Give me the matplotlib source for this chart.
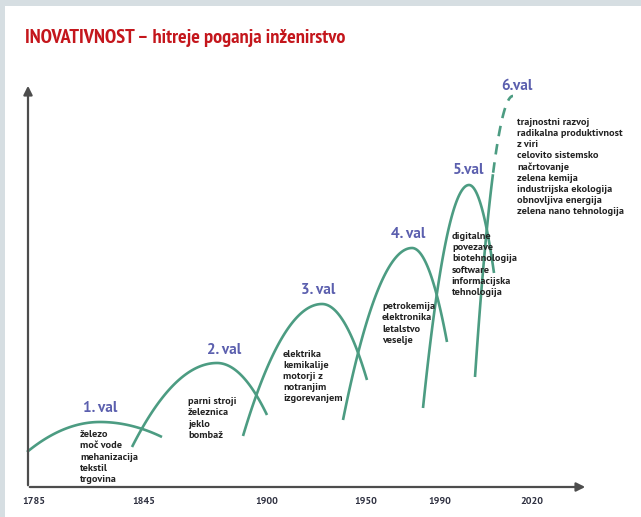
import numpy as np
import matplotlib
matplotlib.use("Agg")
import matplotlib.pyplot as plt
from matplotlib.patches import Rectangle

# ---------------- data ----------------
title = "INOVATIVNOST – hitreje poganja inženirstvo"

tick_pos = [34, 144, 267, 366, 440, 532]
tick_labels = ["1785", "1845", "1900", "1950", "1990", "2020"]

wave_names = ["1. val", "2. val", "3. val", "4. val", "5.val", "6.val"]
wave_start = [(27, 65), (132, 70), (243, 81), (343, 97), (423, 109), (475, 140)]
wave_peak = [(100, 95), (217, 154), (322, 213), (412, 269), (469, 332), (513, 421)]
wave_end = [(162, 80), (267, 102), (367, 137), (447, 175), (494, 244), None]
wave6_dash_from = 493

name_pos = [(100, 109), (224, 167), (318, 227), (408, 283), (469, 347), (517, 431)]

wave_texts = [
    ["železo", "moč vode", "mehanizacija", "tekstil", "trgovina"],
    ["parni stroji", "železnica", "jeklo", "bombaž"],
    ["elektrika", "kemikalije", "motorji z", "notranjim", "izgorevanjem"],
    ["petrokemija", "elektronika", "letalstvo", "veselje"],
    ["digitalne", "povezave", "biotehnologija", "software", "informacijska", "tehnologija"],
    ["trajnostni razvoj", "radikalna produktivnost", "z viri", "celovito sistemsko",
     "načrtovanje", "zelena kemija", "industrijska ekologija", "obnovljiva energija",
     "zelena nano tehnologija"],
]
text_pos = [(80, 60), (188, 98.5), (283, 140.5), (382, 193.5), (452, 252.5), (517, 350)]

# ---------------- styles ----------------
W, H = 641, 517
GREEN = "#4c9c82"
AXIS = "#4d4d4d"
BLUE = "#5b5fae"
RED = "#c4161c"
DARK = "#222222"
NARROW = ["PT Sans Narrow", "DejaVu Sans"]
SANS = ["PT Sans", "DejaVu Sans"]

fig = plt.figure(figsize=(W / 100, H / 100), dpi=100)
ax = fig.add_axes([0, 0, 1, 1])
ax.set_xlim(0, W)
ax.set_ylim(0, H)
ax.axis("off")

# frame bands
ax.add_patch(Rectangle((0, H - 6), W, 6, color="#d6dee2", lw=0))
ax.add_patch(Rectangle((0, 0), 5, H, color="#d6dee2", lw=0))

ax.text(25, H - 43, title, color=RED, fontsize=14.7, fontweight="bold",
        family=NARROW, ha="left", va="baseline")

# axes arrows
ax.annotate("", xy=(588, 30), xytext=(27, 30),
            arrowprops=dict(arrowstyle="-|>", color=AXIS, lw=1.6, mutation_scale=13))
ax.annotate("", xy=(28, 434), xytext=(28, 29),
            arrowprops=dict(arrowstyle="-|>", color=AXIS, lw=1.6, mutation_scale=13))

for x, lab in zip(tick_pos, tick_labels):
    ax.text(x, 16, lab, color="#2e3040", fontsize=7.3, fontweight="bold",
            family=SANS, ha="center", va="center")


def leg(p0, pk, n=60):
    xs = np.linspace(p0[0], pk[0], n)
    t = (xs - pk[0]) / (p0[0] - pk[0])
    ys = pk[1] + (p0[1] - pk[1]) * t ** 2
    return xs, ys


for i in range(6):
    s, pk, e = wave_start[i], wave_peak[i], wave_end[i]
    if e is not None:
        x1, y1 = leg(s, pk)
        x2, y2 = leg(e, pk)
        xs = np.concatenate([x1, x2[::-1]])
        ys = np.concatenate([y1, y2[::-1]])
        ax.plot(xs, ys, color=GREEN, lw=1.9, solid_capstyle="butt")
    else:
        xs, ys = leg(s, pk, 200)
        m = xs <= wave6_dash_from
        ax.plot(xs[m], ys[m], color=GREEN, lw=1.9, solid_capstyle="butt")
        ax.plot(xs[~m], ys[~m], color=GREEN, lw=1.9, dashes=(4, 3))

for (x, y), name in zip(name_pos, wave_names):
    ax.text(x, y, name, color=BLUE, fontsize=11, fontweight="bold",
            family=SANS, ha="center", va="center")

for (x, y), lines in zip(text_pos, wave_texts):
    ax.text(x, y, "\n".join(lines), color=DARK, fontsize=7.4, fontweight="bold",
            family=SANS, ha="left", va="center", linespacing=1.3)

fig.savefig("out.png", dpi=100, facecolor="white")
